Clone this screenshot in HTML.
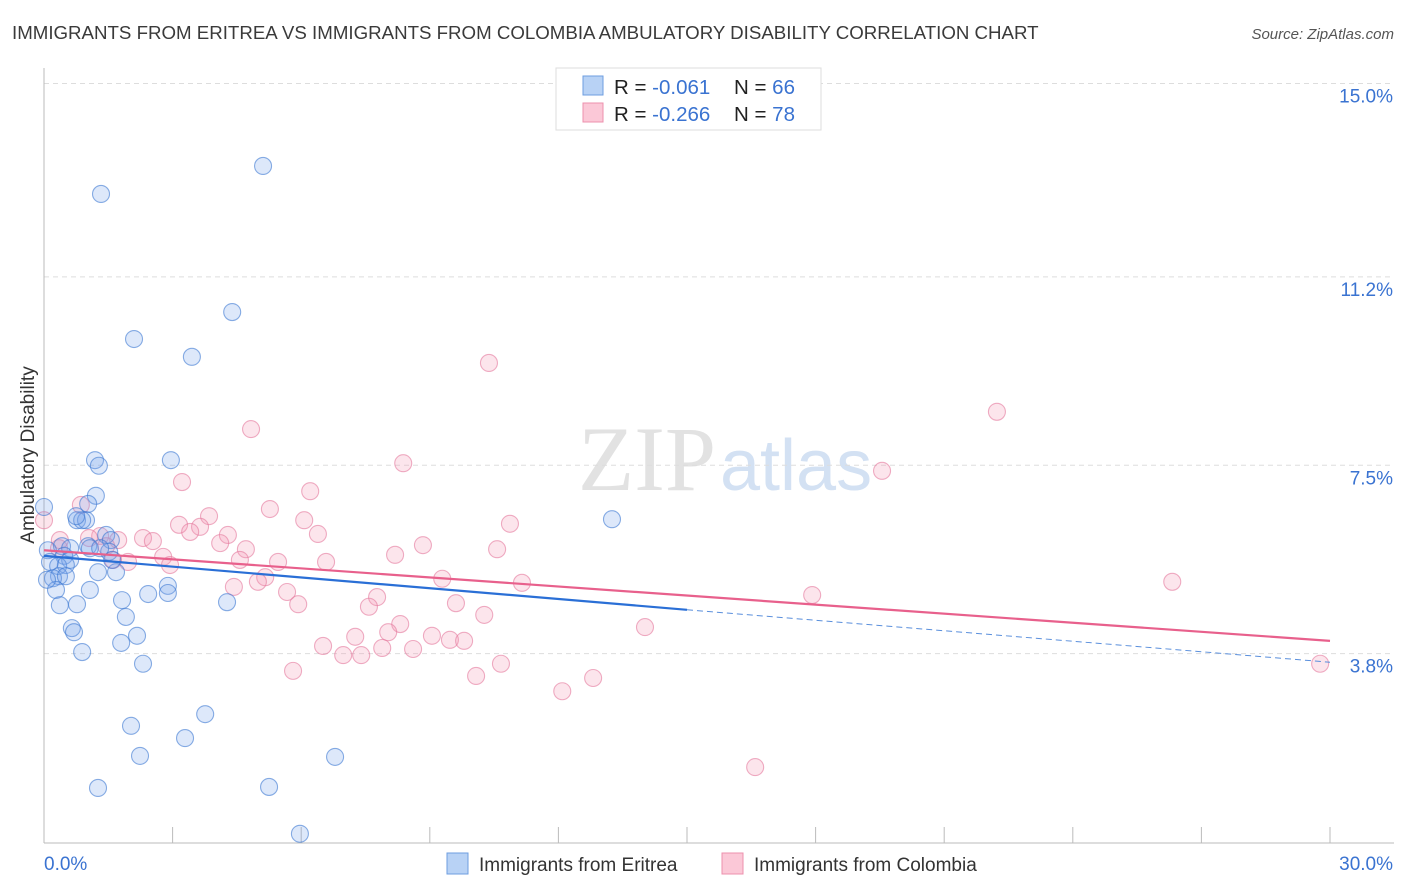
<!DOCTYPE html>
<html><head><meta charset="utf-8">
<style>
body{margin:0;background:#fff;font-family:"Liberation Sans",sans-serif;}
#wrap{position:relative;width:1406px;height:892px;overflow:hidden;}
</style></head>
<body>
<div id="wrap">
<svg id="svg" width="1406" height="892" xmlns="http://www.w3.org/2000/svg">
<text x="12" y="39" font-size="18.7" fill="#3a3a3a">IMMIGRANTS FROM ERITREA VS IMMIGRANTS FROM COLOMBIA AMBULATORY DISABILITY CORRELATION CHART</text>
<text x="1394" y="39" font-size="15" fill="#555" font-style="italic" text-anchor="end">Source: ZipAtlas.com</text>
<text x="716" y="490" font-size="92" fill="#e2e2e2" text-anchor="end" font-family="Liberation Serif">ZIP</text>
<text x="720" y="490" font-size="72" fill="#d3e1f3">atlas</text>
<g id="grid"></g>
<g id="pts"></g>
<g id="lines"></g>
<text transform="translate(34,455) rotate(-90)" font-size="19" fill="#333" text-anchor="middle">Ambulatory Disability</text>
<g>
<rect x="556" y="68" width="265" height="62" fill="#fff" stroke="#ddd"/>
<rect x="583" y="76" width="20" height="19" fill="#b8d2f5" stroke="#6e9ee0"/>
<rect x="583" y="103" width="20" height="19" fill="#fbc8d7" stroke="#ec90ad"/>
<text x="614" y="94" font-size="20.5" fill="#222">R = <tspan fill="#3a73d1">-0.061</tspan><tspan x="734">N = </tspan><tspan fill="#3a73d1">66</tspan></text>
<text x="614" y="121" font-size="20.5" fill="#222">R = <tspan fill="#3a73d1">-0.266</tspan><tspan x="734">N = </tspan><tspan fill="#3a73d1">78</tspan></text>
</g>
<g>
<rect x="447" y="853" width="21" height="21" fill="#b8d2f5" stroke="#6e9ee0"/>
<text x="479" y="871" font-size="19" fill="#333">Immigrants from Eritrea</text>
<rect x="722" y="853" width="21" height="21" fill="#fbc8d7" stroke="#ec90ad"/>
<text x="754" y="871" font-size="19" fill="#333">Immigrants from Colombia</text>
</g>
</svg>
</div>
<script>
const yTicks=[3.8,7.5,11.2,15.0];
const yTickLabels=["3.8%","7.5%","11.2%","15.0%"];
const xTicks=[0,3,6,9,12,15,18,21,24,27,30];
const xEndLabels=["0.0%","30.0%"];
const blueX=[5.11,1.33,4.39,2.10,3.45,2.96,1.19,1.28,1.21,1.03,13.25,0.77,0.98,0.89,0,0.75,1.45,1.56,1.03,0.42,0.61,0.09,1.52,0.47,0.61,0.14,0.33,0.51,1.68,1.26,0.35,0.21,0.51,0.28,2.89,2.89,2.43,1.82,4.27,0.77,0.37,1.07,1.91,0.65,0.70,2.17,1.80,0.89,2.31,2.03,3.76,3.29,2.24,6.79,1.26,5.25,5.97,1.59,0.07,1.07,1.31];
const blueY=[13.38,12.83,10.51,9.98,9.63,7.60,7.60,7.49,6.90,6.74,6.44,6.42,6.42,6.42,6.68,6.50,6.13,6.03,5.91,5.91,5.87,5.83,5.80,5.72,5.64,5.60,5.52,5.54,5.40,5.40,5.32,5.28,5.32,5.05,5.13,4.99,4.97,4.85,4.81,4.77,4.75,5.05,4.52,4.30,4.22,4.15,4.01,3.83,3.60,2.38,2.61,2.14,1.79,1.77,1.16,1.18,0.26,5.64,5.25,5.87,5.87];
const pinkX=[10.38,22.23,4.83,19.55,8.38,3.22,6.21,0.86,5.27,3.85,0,3.15,6.07,10.87,3.64,3.41,4.29,6.39,1.31,2.31,2.54,1.05,1.73,4.11,4.71,10.57,8.84,8.19,0.35,1.45,2.78,4.57,5.46,6.58,2.94,1.96,1.61,5.16,4.99,9.29,11.15,26.32,4.43,5.67,7.77,17.92,5.93,9.61,7.58,10.27,8.31,14.02,7.26,8.03,9.05,9.47,9.80,6.51,7.89,8.61,6.98,7.40,10.66,5.81,10.08,12.81,12.09,16.59,29.77,0.37];
const pinkY=[9.51,8.55,8.21,7.39,7.54,7.17,6.99,6.72,6.64,6.50,6.42,6.33,6.42,6.35,6.29,6.19,6.13,6.15,6.11,6.07,6.01,6.07,6.03,5.97,5.85,5.85,5.93,5.74,5.87,5.91,5.70,5.64,5.60,5.60,5.54,5.60,5.64,5.30,5.21,5.27,5.19,5.21,5.11,5.01,4.91,4.95,4.77,4.79,4.72,4.56,4.38,4.32,4.13,4.22,4.15,4.07,4.05,3.95,3.91,3.89,3.77,3.77,3.60,3.46,3.36,3.32,3.06,1.57,3.60,6.03];
const blueTrend=[5.72,4.66,3.63]; // at x=0, 15, 30
const pinkTrend=[5.83,4.05]; // at x=0, 30

const NS="http://www.w3.org/2000/svg";
const X=v=>44+v/30*1286;
const Y=v=>847-v*50.9;
function mk(tag,attrs,parent){const e=document.createElementNS(NS,tag);for(const k in attrs)e.setAttribute(k,attrs[k]);parent.appendChild(e);return e;}
const grid=document.getElementById('grid'),pts=document.getElementById('pts'),lines=document.getElementById('lines');
yTicks.forEach((t,i)=>{
  const l=mk('line',{x1:44,x2:1394,y1:Y(t),y2:Y(t),stroke:'#ddd','stroke-dasharray':'5,4'},grid);
  
  
  const tx=mk('text',{x:1393,y:Y(t)+19,'font-size':19,fill:'#3a73d1','text-anchor':'end'},grid);
  tx.textContent=yTickLabels[i];
  
  
});
const ax=mk('line',{x1:44,x2:44,y1:68,y2:843,stroke:'#bbb'},grid);


const bx=mk('line',{x1:44,x2:1394,y1:843,y2:843,stroke:'#bbb'},grid);


xTicks.forEach(t=>{
  const l=mk('line',{x1:X(t),x2:X(t),y1:827,y2:843,stroke:'#bbb'},grid);
  
  
});
const xl0=mk('text',{x:44,y:870,'font-size':19,fill:'#3a73d1'},grid);xl0.textContent=xEndLabels[0];


const xl1=mk('text',{x:1393,y:870,'font-size':19,fill:'#3a73d1','text-anchor':'end'},grid);xl1.textContent=xEndLabels[1];


pinkX.forEach((v,i)=>{
  const c=mk('circle',{cx:X(v),cy:Y(pinkY[i]),r:8.5,fill:'rgba(244,150,178,0.25)',stroke:'rgba(228,120,156,0.6)','stroke-width':1.1},pts);
  
  
});
blueX.forEach((v,i)=>{
  const c=mk('circle',{cx:X(v),cy:Y(blueY[i]),r:8.5,fill:'rgba(120,165,235,0.25)',stroke:'rgba(60,120,210,0.6)','stroke-width':1.1},pts);
  
  
});
const pl=mk('line',{x1:X(0),y1:Y(pinkTrend[0]),x2:X(30),y2:Y(pinkTrend[1]),stroke:'#e8608c','stroke-width':2.2},lines);


const bl=mk('line',{x1:X(0),y1:Y(blueTrend[0]),x2:X(15),y2:Y(blueTrend[1]),stroke:'#2a6fd6','stroke-width':2.2},lines);


const bd=mk('line',{x1:X(15),y1:Y(blueTrend[1]),x2:X(30),y2:Y(blueTrend[2]),stroke:'#5a8fdc','stroke-width':1,'stroke-dasharray':'6,4'},lines);


</script>
</body></html>
